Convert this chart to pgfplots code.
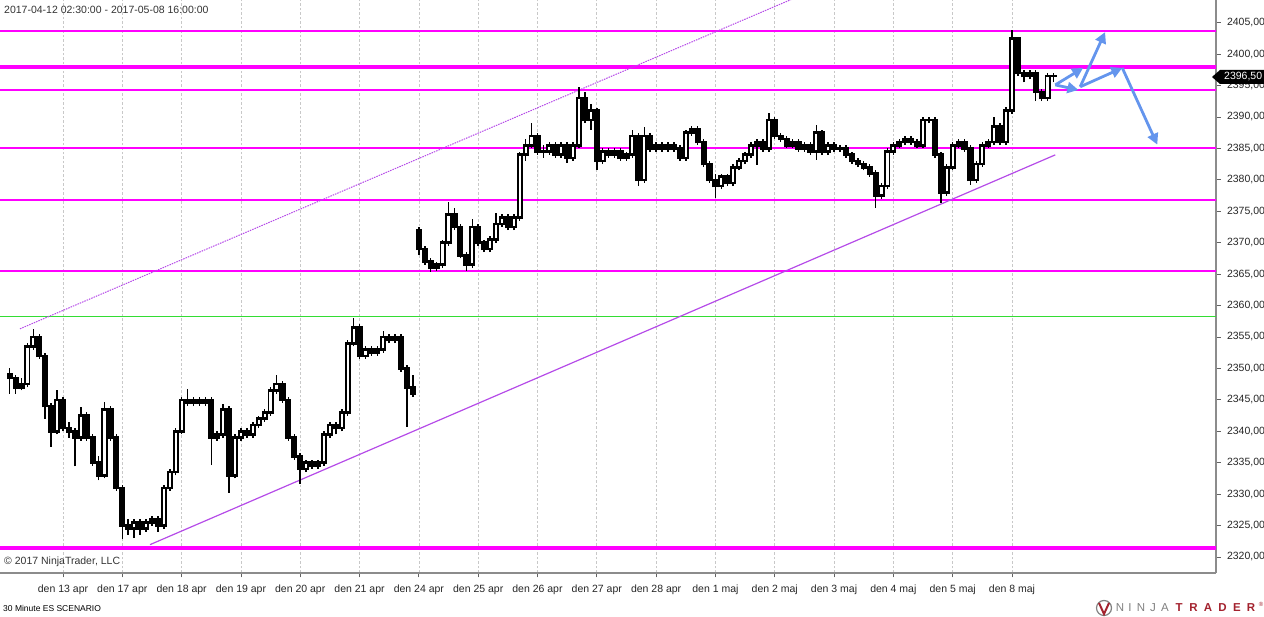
\documentclass[border=0pt]{standalone}
\usepackage{fontspec}
\setmainfont{Liberation Sans}
\usepackage{pgfplots}
\usepackage{pgfplotstable}
\pgfplotsset{compat=1.18}
\usetikzlibrary{arrows.meta}
\definecolor{lvl}{HTML}{FF00FF}
\definecolor{lvlgreen}{HTML}{33DD33}
\definecolor{chan}{HTML}{B54BE8}
\definecolor{arrowblue}{HTML}{6495ED}
\definecolor{axisgray}{HTML}{8C8C8C}
\definecolor{gridgray}{HTML}{C8C8C8}
\definecolor{ntred}{HTML}{A3222E}

% 30 min ES, thinned to one candle per 0.1 day (x: 1 = den 13 apr, one unit per session)
\pgfplotstableread{
x o h l c
0.1 2349.0 2350.0 2346.0 2348.5
0.2 2348.5 2349.0 2346.0 2347.0
0.3 2347.0 2348.5 2346.5 2347.5
0.4 2347.5 2354.0 2347.0 2353.5
0.5 2353.5 2356.2 2353.0 2355.0
0.6 2355.0 2355.5 2351.5 2352.0
0.7 2352.0 2352.5 2342.0 2344.0
0.8 2344.0 2344.5 2337.5 2340.0
0.9 2340.0 2346.6 2339.5 2345.0
1.0 2345.0 2345.5 2340.0 2340.5
1.1 2340.5 2341.5 2339.0 2340.0
1.2 2340.0 2340.5 2334.4 2339.0
1.3 2339.0 2343.8 2338.5 2342.5
1.4 2342.5 2343.0 2338.5 2339.0
1.5 2339.0 2339.5 2334.5 2335.0
1.6 2335.0 2336.0 2332.2 2333.0
1.7 2333.0 2344.7 2332.5 2343.5
1.8 2343.5 2344.0 2338.5 2339.0
1.9 2339.0 2339.5 2330.5 2331.0
2.0 2331.0 2331.5 2322.9 2325.0
2.1 2325.0 2326.0 2323.5 2324.5
2.2 2324.5 2326.0 2323.0 2325.5
2.3 2325.5 2326.0 2323.5 2324.5
2.4 2324.5 2326.0 2324.0 2325.5
2.5 2325.5 2326.5 2325.0 2326.0
2.6 2326.0 2326.5 2324.0 2325.0
2.7 2325.0 2331.5 2324.5 2331.0
2.8 2331.0 2334.0 2330.5 2333.5
2.9 2333.5 2340.5 2333.0 2340.0
3.0 2340.0 2345.5 2339.5 2345.0
3.1 2345.0 2346.7 2344.0 2344.5
3.2 2344.5 2345.5 2344.0 2345.0
3.3 2345.0 2345.5 2344.0 2344.5
3.4 2344.5 2345.5 2344.0 2345.0
3.5 2345.0 2345.5 2334.6 2339.0
3.6 2339.0 2340.0 2338.5 2339.5
3.7 2339.5 2344.3 2339.0 2343.5
3.8 2343.5 2344.0 2330.2 2333.0
3.9 2333.0 2339.5 2332.5 2339.0
4.0 2339.0 2340.5 2338.5 2340.0
4.1 2340.0 2340.5 2339.0 2339.5
4.2 2339.5 2341.5 2339.0 2341.0
4.3 2341.0 2342.5 2340.5 2342.0
4.4 2342.0 2343.5 2341.5 2343.0
4.5 2343.0 2347.0 2342.5 2346.5
4.6 2346.5 2349.0 2346.0 2347.5
4.7 2347.5 2348.0 2344.5 2345.0
4.8 2345.0 2345.5 2338.5 2339.0
4.9 2339.0 2339.5 2335.5 2336.0
5.0 2336.0 2336.5 2331.6 2334.0
5.1 2334.0 2335.5 2333.5 2335.0
5.2 2335.0 2335.5 2334.0 2334.5
5.3 2334.5 2335.5 2334.0 2335.0
5.4 2335.0 2340.0 2334.5 2339.5
5.5 2339.5 2341.5 2339.0 2341.0
5.6 2341.0 2341.5 2339.5 2340.5
5.7 2340.5 2343.5 2340.0 2343.0
5.8 2343.0 2354.5 2342.5 2354.0
5.9 2354.0 2358.0 2353.5 2356.5
6.0 2356.5 2357.0 2351.5 2352.0
6.1 2352.0 2353.5 2351.5 2353.0
6.2 2353.0 2353.5 2352.0 2352.5
6.3 2352.5 2353.5 2352.0 2353.0
6.4 2353.0 2356.0 2352.5 2355.0
6.5 2355.0 2355.5 2354.0 2354.5
6.6 2354.5 2355.5 2354.0 2355.0
6.7 2355.0 2355.5 2349.5 2350.0
6.8 2350.0 2350.5 2340.7 2347.0
6.9 2347.0 2349.0 2345.5 2346.0
7.0 2372.0 2372.5 2368.0 2369.0
7.1 2369.0 2369.5 2366.5 2367.0
7.2 2367.0 2367.5 2365.4 2366.0
7.3 2366.0 2367.0 2365.5 2366.5
7.4 2366.5 2370.5 2366.0 2370.0
7.5 2370.0 2376.5 2369.5 2374.5
7.6 2374.5 2375.5 2372.0 2372.5
7.7 2372.5 2373.0 2367.5 2368.0
7.8 2368.0 2368.5 2365.5 2366.5
7.9 2366.5 2373.7 2366.0 2372.5
8.0 2372.5 2373.0 2369.5 2370.0
8.1 2370.0 2370.5 2368.5 2369.0
8.2 2369.0 2371.0 2368.5 2370.5
8.3 2370.5 2374.7 2370.0 2373.0
8.4 2373.0 2374.5 2372.5 2374.0
8.5 2374.0 2374.5 2372.0 2372.5
8.6 2372.5 2374.5 2372.0 2374.0
8.7 2374.0 2384.5 2373.5 2384.0
8.8 2384.0 2386.5 2383.0 2385.5
8.9 2385.5 2389.0 2385.0 2387.0
9.0 2387.0 2387.5 2384.0 2384.5
9.1 2384.5 2385.5 2383.5 2384.5
9.2 2384.5 2386.0 2384.0 2385.5
9.3 2385.5 2386.0 2383.5 2384.0
9.4 2384.0 2386.0 2383.5 2385.5
9.5 2385.5 2386.0 2382.7 2383.5
9.6 2383.5 2386.0 2383.0 2385.5
9.7 2385.5 2394.8 2385.0 2393.0
9.8 2393.0 2394.0 2389.0 2389.5
9.9 2389.5 2392.0 2388.0 2391.0
10.0 2391.0 2391.5 2381.6 2383.0
10.1 2383.0 2385.0 2382.5 2384.5
10.2 2384.5 2385.0 2383.5 2384.0
10.3 2384.0 2385.0 2383.5 2384.5
10.4 2384.5 2385.0 2383.0 2383.5
10.5 2383.5 2384.5 2383.0 2384.0
10.6 2384.0 2388.0 2383.5 2387.0
10.7 2387.0 2387.5 2379.0 2380.0
10.8 2380.0 2388.4 2379.5 2387.0
10.9 2387.0 2387.5 2384.5 2385.0
11.0 2385.0 2386.0 2384.5 2385.5
11.1 2385.5 2386.0 2384.5 2385.0
11.2 2385.0 2386.0 2384.5 2385.5
11.3 2385.5 2386.0 2384.5 2385.0
11.4 2385.0 2385.5 2383.0 2383.5
11.5 2383.5 2388.0 2383.0 2387.5
11.6 2387.5 2388.5 2387.0 2388.0
11.7 2388.0 2388.5 2385.5 2386.0
11.8 2386.0 2386.5 2382.0 2382.5
11.9 2382.5 2383.0 2379.5 2380.0
12.0 2380.0 2381.0 2377.1 2379.0
12.1 2379.0 2381.0 2378.5 2380.5
12.2 2380.5 2381.0 2379.0 2379.5
12.3 2379.5 2382.5 2379.0 2382.0
12.4 2382.0 2383.5 2381.5 2383.0
12.5 2383.0 2384.5 2382.5 2384.0
12.6 2384.0 2386.0 2383.5 2385.5
12.7 2385.5 2386.5 2382.4 2386.0
12.8 2386.0 2386.5 2384.5 2385.0
12.9 2385.0 2390.6 2384.5 2389.5
13.0 2389.5 2390.0 2386.5 2387.0
13.1 2387.0 2387.5 2386.0 2386.5
13.2 2386.5 2387.0 2385.0 2385.5
13.3 2385.5 2386.5 2385.0 2386.0
13.4 2386.0 2386.5 2384.5 2385.0
13.5 2385.0 2386.0 2384.5 2385.5
13.6 2385.5 2386.0 2384.0 2384.5
13.7 2384.5 2388.8 2383.2 2387.5
13.8 2387.5 2388.0 2384.0 2384.5
13.9 2384.5 2386.0 2384.0 2385.5
14.0 2385.5 2386.0 2384.5 2385.0
14.1 2385.0 2385.5 2384.5 2385.0
14.2 2385.0 2385.5 2383.5 2384.0
14.3 2384.0 2384.5 2382.5 2383.0
14.4 2383.0 2383.5 2382.0 2382.5
14.5 2382.5 2383.0 2381.5 2382.0
14.6 2382.0 2382.5 2380.5 2381.0
14.7 2381.0 2381.5 2375.5 2377.5
14.8 2377.5 2379.5 2377.0 2379.0
14.9 2379.0 2385.0 2378.5 2384.5
15.0 2384.5 2386.0 2384.0 2385.5
15.1 2385.5 2386.5 2385.0 2386.0
15.2 2386.0 2387.0 2385.5 2386.5
15.3 2386.5 2387.0 2385.5 2386.0
15.4 2386.0 2386.5 2385.0 2385.5
15.5 2385.5 2390.0 2385.0 2389.5
15.6 2389.5 2390.0 2389.0 2389.5
15.7 2389.5 2390.0 2383.5 2384.0
15.8 2384.0 2384.5 2376.3 2378.0
15.9 2378.0 2382.5 2377.5 2382.0
16.0 2382.0 2386.0 2381.5 2385.5
16.1 2385.5 2386.5 2385.0 2386.0
16.2 2386.0 2386.5 2384.5 2385.0
16.3 2385.0 2385.5 2379.2 2380.0
16.4 2380.0 2383.0 2379.5 2382.5
16.5 2382.5 2386.0 2382.0 2385.5
16.6 2385.5 2386.5 2385.0 2386.0
16.7 2386.0 2390.0 2385.5 2388.5
16.8 2388.5 2389.0 2385.5 2386.0
16.9 2386.0 2391.6 2385.5 2391.0
17.0 2391.0 2403.8 2390.5 2402.5
17.1 2402.5 2402.7 2396.5 2397.0
17.2 2397.0 2397.5 2395.5 2396.5
17.3 2396.5 2397.5 2396.0 2397.0
17.4 2397.0 2397.5 2392.5 2394.0
17.5 2394.0 2394.5 2392.5 2393.0
17.6 2393.0 2397.0 2392.5 2396.5
17.7 2396.5 2397.0 2395.5 2396.5
}\candles

\begin{document}
\begin{tikzpicture}[x=1pt,y=1pt]
\begin{axis}[
  at={(0,0)}, anchor=south west,
  scale only axis, width=1216pt, height=573pt,
  xmin=-0.0622, xmax=20.44, ymin=2317.45, ymax=2408.61,
  axis x line=bottom, axis y line=right,
  axis line style={-, draw=axisgray, line width=1.6pt},
  xtick={1,...,17},
  xticklabels={den 13 apr,den 17 apr,den 18 apr,den 19 apr,den 20 apr,den 21 apr,den 24 apr,den 25 apr,den 26 apr,den 27 apr,den 28 apr,den 1 maj,den 2 maj,den 3 maj,den 4 maj,den 5 maj,den 8 maj},
  xticklabel style={yshift=-4pt},
  ytick={2320,2325,...,2405},
  yticklabel style={xshift=3pt, /pgf/number format/.cd, fixed, fixed zerofill, precision=2, use comma, 1000 sep={}},
  /pgf/number format/assume math mode=true,
  tick label style={font=\fontsize{10.5}{12}\selectfont, text=black!85},
  tick align=outside, major tick length=4.5pt,
  tick style={draw=axisgray!70!black, line width=0.8pt},
  xmajorgrids, grid style={draw=gridgray, dash pattern=on 2.5pt off 2pt, line width=0.7pt},
]
% price levels
\addplot[lvl, line width=2pt] coordinates {(-1,2403.75) (21,2403.75)};
\addplot[lvl, line width=4pt] coordinates {(-1,2398.0) (21,2398.0)};
\addplot[lvl, line width=2pt] coordinates {(-1,2394.25) (21,2394.25)};
\addplot[lvl, line width=2pt] coordinates {(-1,2385.0) (21,2385.0)};
\addplot[lvl, line width=2.5pt] coordinates {(-1,2376.75) (21,2376.75)};
\addplot[lvl, line width=2.5pt] coordinates {(-1,2365.5) (21,2365.5)};
\addplot[lvlgreen, line width=1.5pt] coordinates {(-1,2358.25) (21,2358.25)};
\addplot[lvl, line width=4pt] coordinates {(-1,2321.5) (21,2321.5)};
% channel
\addplot[chan, line width=1pt, dash pattern=on 1.5pt off 1pt] coordinates {(0.275,2356.3) (14,2411.6)};
\addplot[chan, line width=1.2pt] coordinates {(2.467,2321.96) (17.73,2383.97)};
% candles: wicks, bodies (touching, like the packed 30 min bars), hollow up bodies
\addplot[draw=none, forget plot, error bars/.cd, y dir=plus, y explicit, error mark=none,
  error bar style={draw=black, solid, line width=1.5pt}]
  table[x=x, y=l, y error plus expr=\thisrow{h}-\thisrow{l}] {\candles};
\addplot[draw=none, forget plot, error bars/.cd, y dir=plus, y explicit, error mark=none,
  error bar style={draw=black, solid, line width=6.1pt}]
  table[x=x, y expr={min(\thisrow{o},\thisrow{c})-0.2}, y error plus expr={abs(\thisrow{c}-\thisrow{o})+0.4}] {\candles};
\addplot[draw=none, forget plot, restrict expr to domain={\thisrow{c}-\thisrow{o}}{0.9:1000},
  error bars/.cd, y dir=plus, y explicit, error mark=none,
  error bar style={draw=white, solid, line width=2.2pt}]
  table[x=x, y expr=\thisrow{o}+0.2, y error plus expr=\thisrow{c}-\thisrow{o}-0.4] {\candles};
% scenario arrows
\addplot[arrowblue, line width=2.8pt, -{Triangle[length=11pt,width=11pt]}] coordinates {(17.73,2395.1) (18.20,2397.8)};
\addplot[arrowblue, line width=2.8pt, -{Triangle[length=11pt,width=11pt]}] coordinates {(17.73,2395.1) (18.12,2394.3)};
\addplot[arrowblue, line width=2.8pt, -{Triangle[length=11pt,width=11pt]}] coordinates {(18.15,2394.8) (18.57,2403.5)};
\addplot[arrowblue, line width=2.8pt, -{Triangle[length=11pt,width=11pt]}] coordinates {(18.15,2394.8) (18.86,2397.8)};
\addplot[arrowblue, line width=2.8pt, -{Triangle[length=11pt,width=11pt]}] coordinates {(18.86,2397.8) (19.45,2385.6)};
\end{axis}
% texts (picture coords: x = px, y = 573 - py)
\node[anchor=west, inner sep=0pt, text=black!80, font=\fontsize{10.5}{12}\selectfont] at (4,563) {2017-04-12 02:30:00 - 2017-05-08 16:00:00};
\node[anchor=west, inner sep=0pt, text=black!80, font=\fontsize{10.5}{12}\selectfont] at (4,11) {\textcopyright{} 2017 NinjaTrader, LLC};
\node[anchor=west, inner sep=0pt, text=black, font=\fontsize{8.5}{10}\selectfont] at (3,-35) {30 Minute ES SCENARIO};
% last price tag
\fill[black] (1212,496) -- (1220,503) -- (1264,503) -- (1264,489) -- (1220,489) -- cycle;
\node[anchor=west, inner sep=0pt, text=white, font=\fontsize{10.5}{12}\selectfont] at (1224,496) {2396,50};
% logo
\draw[gray, line width=1.2pt] (1104,-35) circle (7.5);
\draw[ntred, line width=2pt] (1099,-30) -- (1104,-41) -- (1109,-30);
\foreach \l/\p in {N/1120, I/1130, N/1141, J/1153, A/1165}
  \node[text=gray, inner sep=0pt, font=\fontsize{11.5}{12}\selectfont] at (\p,-35) {\l};
\foreach \l/\p in {T/1179, R/1193.5, A/1208, D/1222.5, E/1237, R/1251}
  \node[text=ntred, inner sep=0pt, font=\bfseries\fontsize{11.5}{12}\selectfont] at (\p,-35) {\l};
\node[text=ntred, inner sep=0pt, font=\fontsize{6}{7}\selectfont] at (1261,-31) {\textregistered};
\pgfresetboundingbox
\useasboundingbox (0,-44) rectangle (1264,573);
\end{tikzpicture}
\end{document}
